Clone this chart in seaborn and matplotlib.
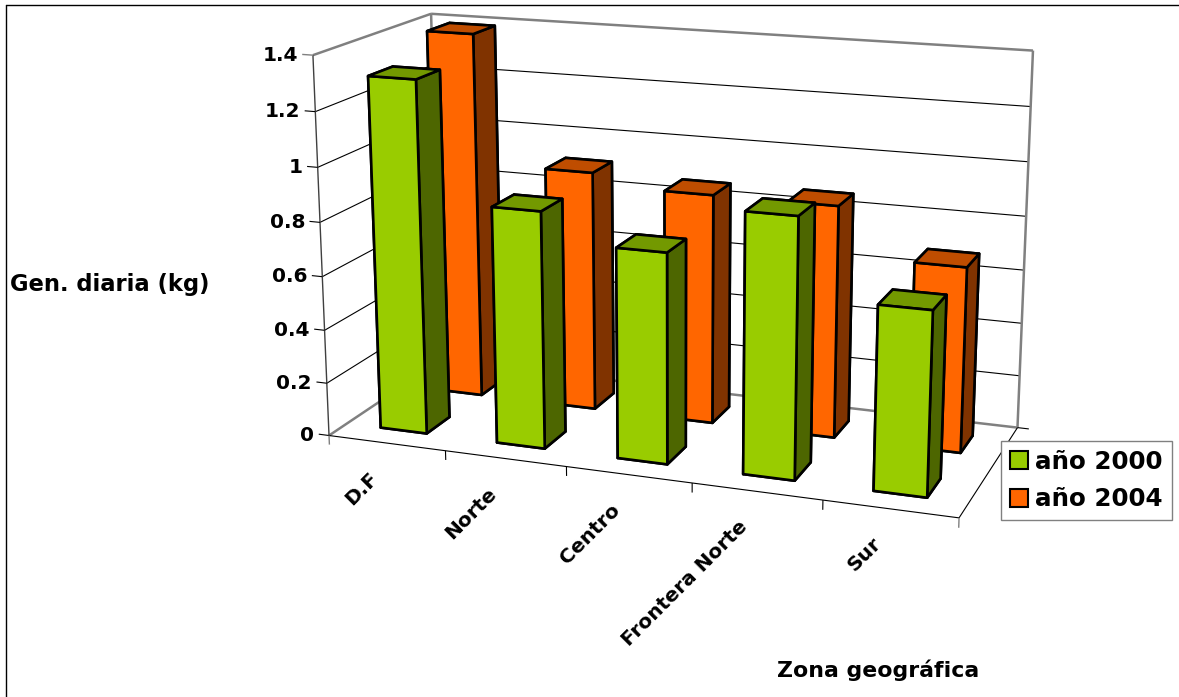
import numpy as np
import matplotlib
matplotlib.use('Agg')
import matplotlib.pyplot as plt
from matplotlib.lines import Line2D
from matplotlib.patches import Patch
from mpl_toolkits.mplot3d.art3d import Line3DCollection
import seaborn as sns

# data
zonas = ['D.F', 'Norte', 'Centro', 'Frontera Norte', 'Sur']
anio_2000 = [1.31, 0.875, 0.77, 0.94, 0.66]
anio_2004 = [1.395, 0.91, 0.865, 0.865, 0.685]
series_names = ['año 2000', 'año 2004']
z_ticks = [0, 0.2, 0.4, 0.6, 0.8, 1, 1.2, 1.4]
z_labels = ['0', '0.2', '0.4', '0.6', '0.8', '1', '1.2', '1.4']

sns.set_theme(style='white')
plt.rcParams['font.family'] = ['DejaVu Sans']
plt.rcParams['font.weight'] = 'bold'
plt.rcParams['text.color'] = 'black'

W, H = 1179, 697
green = sns.color_palette(['#99CC00', '#739900', '#4D6600'])
orange = sns.color_palette(['#FF6600', '#BF4D00', '#803300'])
GRAY = '#808080'

fig = plt.figure(figsize=(W / 100, H / 100), dpi=100)
ax = fig.add_axes([0, 0, 1, 1], projection='3d', computed_zorder=False)
ax.set_axis_off()


# Excel's camera: fit a projection from the corners of the box to pixels
def fit_camera():
    box = [(0, 0, 0), (5, 0, 0), (5, 2, 0), (0, 2, 0),
           (0, 0, 1.4), (0, 2, 1.4), (5, 2, 1.4)]
    pix = [(329, 436), (959, 517.5), (1017.5, 428), (441, 360),
           (313, 55), (431, 14), (1033, 50.5)]
    rows = []
    for (x, y, z), (u, v) in zip(box, pix):
        rows.append([x, y, z, 1, 0, 0, 0, 0, -u * x, -u * y, -u * z, -u])
        rows.append([0, 0, 0, 0, x, y, z, 1, -v * x, -v * y, -v * z, -v])
    P = np.linalg.svd(np.array(rows))[2][-1].reshape(3, 4)
    w = P[2] @ np.array([2.5, 1, 0.7, 1])
    P = P / w
    return np.vstack([P[0], P[1], P[2] - [0, 0, 0, 0.5], P[2]])


M = fit_camera()
ax.get_proj = lambda: M
ax.apply_aspect = lambda position=None: None
ax.viewLim.set_points(np.array([[0.0, H], [W, 0.0]]))


def to_fig(x, y, z, dx=0, dy=0):
    v = M @ np.array([x, y, z, 1.0])
    return (v[0] / v[3] + dx) / W, 1 - (v[1] / v[3] + dy) / H


def edges(segments, color='black', lw=0.8):
    ax.add_collection3d(Line3DCollection(segments, colors=color, linewidths=lw, zorder=0))


top = z_ticks[-1]
n = len(zonas)

# walls and floor
edges([[(0, 0, z), (0, 2, z)] for z in z_ticks[1:-1]] + [[(0, 2, z), (5, 2, z)] for z in z_ticks[1:-1]])
edges([[(0, 0, top), (0, 2, top)], [(0, 2, top), (5, 2, top)], [(5, 2, top), (5, 2, 0)],
       [(0, 2, top), (0, 2, 0)], [(0, 0, 0), (0, 2, 0)], [(0, 2, 0), (5, 2, 0)]], GRAY, 1.8)
edges([[(0, 0, top), (0, 0, 0)]], '#404040', 1.0)
edges([[(0, 0, 0), (5, 0, 0)], [(5, 0, 0), (5, 2, 0)], [(5, 2, 0), (5.09, 2, 0)]])

# ticks
edges([[(-0.09, 0, z), (0, 0, z)] for z in z_ticks[:-1]])
edges([[(-0.09, 0, top), (0, 0, top)]], GRAY, 1.0)
edges([[(k, 0, 0), (k, 0, -0.035)] for k in range(1, n)])
edges([[(k, 0, 0), (k, 0, -0.035)] for k in (0, n)], GRAY, 1.0)

for z, label in zip(z_ticks, z_labels):
    px, py = to_fig(0, 0, z, dx=-15)
    fig.text(px, py, label, ha='right', va='center', fontsize=14.5)

for k, zona in enumerate(zonas):
    px, py = to_fig(k + 0.5, 0, 0, dx=-12, dy=32)
    fig.text(px, py, zona, rotation=45, ha='right', va='center',
             rotation_mode='anchor', fontsize=14.5)

# bars, back row first
x = np.arange(n) + 0.295
width, depth = 0.40, 0.41
face_order = lambda c: [c[1], c[1], c[0], c[0], c[2], c[2]]  # -z +z -y +y -x +x
for vals, pal, x0, y0, zo in [(anio_2004, orange, 0.015, 1.29, 1), (anio_2000, green, 0, 0.3, 2)]:
    ax.bar3d(x + x0, np.full(n, y0), np.zeros(n), width, depth, vals, shade=False,
             color=face_order(pal) * n, edgecolor='black', linewidth=1.9, zorder=zo)

fig.text(10 / W, 1 - 284 / H, 'Gen. diaria (kg)', ha='left', va='center', fontsize=16.3)
fig.text(878 / W, 1 - 670 / H, 'Zona geográfica', ha='center', va='center', fontsize=15.8)

handles = [Patch(facecolor=green[0], edgecolor='black', lw=1.5),
           Patch(facecolor=orange[0], edgecolor='black', lw=1.5)]
fig.legend(handles, series_names, loc='upper left',
           bbox_to_anchor=(1001 / W, 1 - 441 / H), fontsize=17.7, frameon=True, fancybox=False,
           edgecolor=GRAY, framealpha=1, handlelength=0.75, handleheight=0.75,
           handletextpad=0.3, labelspacing=0.55, borderpad=0.35, borderaxespad=0)

# sheet border
fig.add_artist(Line2D([6 / W, 6 / W], [0, 1 - 5 / H], color='black', lw=1))
fig.add_artist(Line2D([6 / W, 1], [1 - 5 / H, 1 - 5 / H], color='black', lw=1))

fig.savefig('out.png', dpi=100)
